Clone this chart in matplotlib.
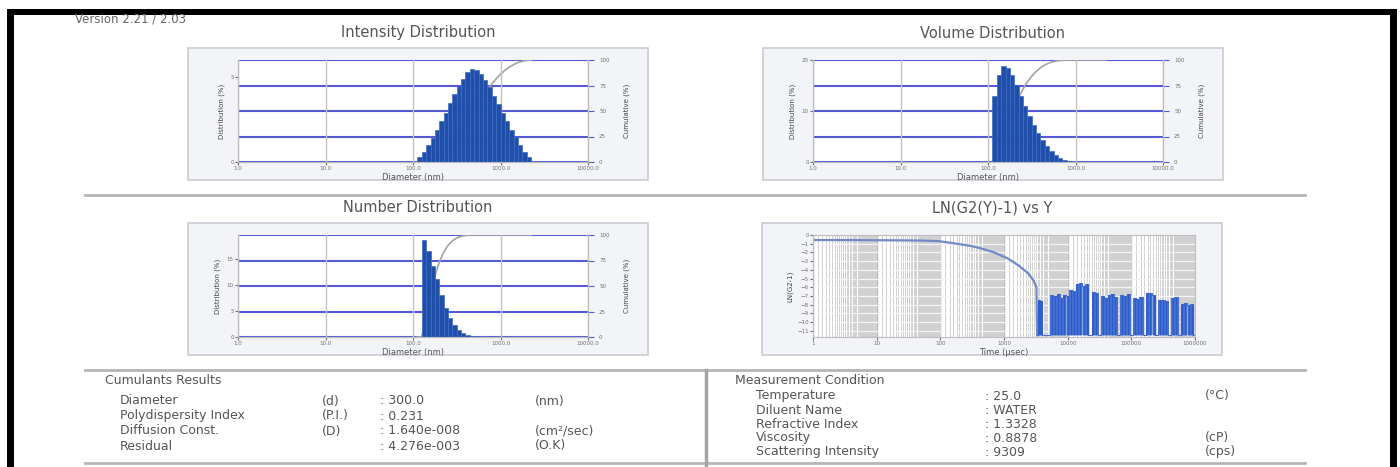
import numpy as np
import matplotlib.pyplot as plt
from matplotlib.patches import Rectangle
from matplotlib.lines import Line2D

W, H = 1400, 467

# size distribution bins (nm) and values
diameter_edges = [112.2, 125.9, 141.3, 158.5, 177.8, 199.5, 223.9, 251.2, 281.8, 316.2,
                  354.8, 398.1, 446.7, 501.2, 562.3, 631.0, 707.9, 794.3, 891.3, 1000.0,
                  1122.0, 1259.0, 1413.0, 1585.0, 1778.0, 1995.0, 2239.0]
intensity_pct = [0.3, 0.6, 1.0, 1.4, 1.9, 2.4, 2.9, 3.5, 4.0, 4.5, 4.9, 5.3, 5.5,
                 5.4, 5.2, 4.8, 4.4, 3.9, 3.4, 2.9, 2.4, 1.9, 1.5, 1.0, 0.6, 0.3]
volume_pct = [13.0, 17.0, 18.8, 18.5, 17.0, 15.0, 13.0, 11.0, 9.0, 7.3, 5.7, 4.3, 3.1,
              2.1, 1.3, 0.7, 0.3, 0.1, 0, 0, 0, 0, 0, 0, 0, 0]
number_pct = [0, 18.6, 16.5, 13.5, 11.0, 8.0, 5.5, 3.6, 2.3, 1.3, 0.7, 0.3, 0.1,
              0, 0, 0, 0, 0, 0, 0, 0, 0, 0, 0, 0, 0]
diam_ticks = [1, 10, 100, 1000, 10000]
diam_labels = ["1.0", "10.0", "100.0", "1000.0", "10000.0"]

# correlation function
tau_us = [1, 2, 5, 10, 20, 50, 92, 167, 300, 440, 700, 1150, 1700, 2400, 2900, 3230]
ln_g2 = [-0.58, -0.58, -0.59, -0.6, -0.61, -0.64, -0.7, -0.96, -1.25, -1.54, -2.0,
         -2.7, -3.5, -4.4, -5.2, -6.0]
noise_tau_us = [3311, 3548, 3802, 3981, 4467, 5012, 5623, 6310, 7079, 7943, 8913, 10000,
                11220, 12589, 14125, 15849, 17783, 19953, 22387, 25119, 28184, 31623,
                35481, 39811, 44668, 50119, 56234, 63096, 70795, 79433, 89125, 100000,
                112202, 125893, 141254, 158489, 177828, 199526, 223872, 251189, 281838,
                316228, 354813, 398107, 446684, 501187, 562341, 630957, 707946, 794328,
                891251, 1000000]
noise_ln_g2 = [-11.5, -7.5, -7.6, -11.5, -11.5, -11.5, -6.9, -7.0, -6.8, -7.2, -6.9, -7.0,
               -6.3, -6.4, -5.6, -5.5, -5.8, -5.6, -11.5, -6.5, -6.6, -11.5,
               -7.0, -7.2, -6.9, -6.8, -7.1, -11.5, -6.9, -7.0, -6.8, -11.5,
               -7.2, -7.3, -7.1, -11.5, -6.7, -6.6, -6.9, -11.5, -7.5,
               -7.4, -7.6, -11.5, -7.2, -7.1, -11.5, -7.9, -7.8, -8.0,
               -7.9, -11.5]
ln_floor = -11.5
tau_ticks = [1, 10, 100, 1000, 10000, 100000, 1000000]
tau_labels = ["1", "10", "100", "1000", "10000", "100000", "1000000"]

cumulant_rows = [("Diameter", "(d)", ": 300.0", "(nm)"),
                 ("Polydispersity Index", "(P.I.)", ": 0.231", ""),
                 ("Diffusion Const.", "(D)", ": 1.640e-008", "(cm\u00b2/sec)"),
                 ("Residual", "", ": 4.276e-003", "(O.K)")]
condition_rows = [("Temperature", ": 25.0", "(\u00b0C)"),
                  ("Diluent Name", ": WATER", ""),
                  ("Refractive Index", ": 1.3328", ""),
                  ("Viscosity", ": 0.8878", "(cP)"),
                  ("Scattering Intensity", ": 9309", "(cps)")]

BAR = "#1f4fa8"
GRID_BLUE = "#5559d6"
TXT = "#555555"
TICK = "#707070"


def box(x0, y0, x1, y1):
    return [x0 / W, 1 - y1 / H, (x1 - x0) / W, (y1 - y0) / H]


def frame(fig, x0, y0, x1, y1):
    l, b, w, h = box(x0, y0, x1, y1)
    fig.add_artist(Rectangle((l, b), w, h, transform=fig.transFigure, facecolor="#f2f4f8",
                             edgecolor="#c9ccd3", lw=1.2, zorder=-1))


def ftext(fig, x, y, s, size=8, color=TXT, ha="left"):
    fig.text(x / W, 1 - y / H, s, fontsize=size, color=color, ha=ha, va="center")


def dist_panel(fig, fx0, fy0, title, values, left_max, left_ticks):
    frame(fig, fx0, fy0, fx0 + 460, fy0 + 132)
    ftext(fig, fx0 + 230, fy0 - 15, title, size=10.5, ha="center")
    ax = fig.add_axes(box(fx0 + 50, fy0 + 12, fx0 + 400, fy0 + 114))
    ax2 = ax.twinx()
    ax2.set_zorder(0)
    ax.set_zorder(1)
    ax.patch.set_visible(False)
    ax2.patch.set_visible(True)
    ax2.patch.set_facecolor("white")

    edges = np.array(diameter_edges)
    vals = np.array(values, dtype=float)
    keep = vals > 0
    ax.bar(edges[:-1][keep], vals[keep], width=np.diff(edges)[keep], align="edge",
           color=BAR, edgecolor="#3e6cc6", linewidth=0.5, zorder=2)
    cum = np.concatenate([[0], np.cumsum(vals) / vals.sum() * 100])
    ax2.plot(edges, cum, color="#a3a3a3", lw=1.2)

    ax.set_xscale("log")
    ax.set_xlim(1, 10000)
    ax.set_ylim(0, left_max)
    ax2.set_ylim(0, 100)
    ax.set_xticks(diam_ticks)
    ax.set_xticklabels(diam_labels)
    ax.xaxis.set_minor_locator(plt.NullLocator())
    ax.set_yticks(left_ticks)
    ax2.set_yticks([0, 25, 50, 75, 100])
    ax.set_axisbelow(True)
    ax.xaxis.grid(True, color="#c4c4c4", lw=1.0)
    ax2.yaxis.grid(True, color=GRID_BLUE, lw=1.5)
    ax.tick_params(labelsize=4, colors=TICK, length=2, pad=1)
    ax2.tick_params(labelsize=4, colors=TICK, length=4, pad=4)
    ax2.tick_params(axis="y", color=GRID_BLUE)
    for a in (ax, ax2):
        for s in a.spines.values():
            s.set_color("#bdbdbd")
            s.set_linewidth(0.8)
        a.spines["top"].set_visible(False)
    ax.set_xlabel("Diameter (nm)", fontsize=6, color=TXT, labelpad=1)
    ax.set_ylabel("Distribution (%)", fontsize=5, color="#444444", labelpad=4)
    ax2.set_ylabel("Cumulative (%)", fontsize=5, color="#444444", labelpad=10)


fig = plt.figure(figsize=(14, 4.67), dpi=100)
fig.patch.set_facecolor("white")

# black screenshot border
for x0, y0, x1, y1 in [(7, 9, 1397, 15), (7, 9, 14, 467), (1390, 9, 1397, 467)]:
    l, b, w, h = box(x0, y0, x1, y1)
    fig.add_artist(Rectangle((l, b), w, h, transform=fig.transFigure, color="black", lw=0))

# separators
for y in (195, 370, 463):
    fig.add_artist(Line2D([85 / W, 1305 / W], [1 - y / H] * 2, transform=fig.transFigure,
                          color="#b5b5b5", lw=2))
fig.add_artist(Line2D([706 / W] * 2, [1 - 370 / H, 0], transform=fig.transFigure,
                      color="#a5a5a5", lw=2.5))

ftext(fig, 75, 19, "Version 2.21 / 2.03", size=8.5, color="#666666")

dist_panel(fig, 188, 48, "Intensity Distribution", intensity_pct, 6, [0, 5])
dist_panel(fig, 763, 48, "Volume Distribution", volume_pct, 20, [0, 10, 20])
dist_panel(fig, 188, 223, "Number Distribution", number_pct, 19.5, [0, 5, 10, 15])

# correlation panel
frame(fig, 762, 223, 1222, 355)
ftext(fig, 992, 208, "LN(G2(Y)-1) vs Y", size=10.5, ha="center")
ax3 = fig.add_axes(box(813, 235, 1195, 337))
ax3.set_xscale("log")
ax3.set_xlim(1, 1e6)
ax3.set_ylim(-11.7, 0)
ax3.set_xticks(tau_ticks)
ax3.set_xticklabels(tau_labels)
ax3.set_yticks(range(0, -12, -1))
ax3.xaxis.set_minor_locator(plt.LogLocator(base=10, subs=np.arange(1.2, 9.9, 0.2), numticks=20))
ax3.xaxis.set_minor_formatter(plt.NullFormatter())
ax3.set_axisbelow(True)
ax3.xaxis.grid(True, which="minor", color="#d0d0d0", lw=0.7)
ax3.xaxis.grid(True, which="major", color="#bcbcbc", lw=1.0)
ax3.yaxis.grid(True, color="#f4f4f4", lw=0.9)
ax3.tick_params(labelsize=4, colors=TICK, length=2, pad=1)
ax3.tick_params(which="minor", length=0)
for s in ax3.spines.values():
    s.set_color("#bdbdbd")
    s.set_linewidth(0.8)
ax3.plot(tau_us + noise_tau_us[:1], ln_g2 + noise_ln_g2[:1], color="#7389c6", lw=1.6)
nt = np.array(noise_tau_us)
nv = np.array(noise_ln_g2)
ax3.fill_between(nt, nv, ln_floor, step="mid", color="#86a2e2", lw=0)
ax3.step(nt, nv, where="mid", color="#4a70d0", lw=0.8)
up = nv > ln_floor
ax3.vlines(nt[up], ln_floor, nv[up], color="#2c5ccc", lw=1.8)
ax3.set_xlabel("Time (\u03bcsec)", fontsize=6, color=TXT, labelpad=1)
ax3.set_ylabel("LN(G2-1)", fontsize=5, color="#444444", labelpad=3)

# result tables
ftext(fig, 105, 381, "Cumulants Results", size=9)
for i, (name, sym, val, unit) in enumerate(cumulant_rows):
    y = 401 + i * 15
    ftext(fig, 120, y, name, size=9)
    ftext(fig, 322, y, sym, size=9)
    ftext(fig, 380, y, val, size=9)
    ftext(fig, 535, y, unit, size=9)

ftext(fig, 735, 381, "Measurement Condition", size=9)
for i, (name, val, unit) in enumerate(condition_rows):
    y = 396 + i * 14
    ftext(fig, 756, y, name, size=9)
    ftext(fig, 985, y, val, size=9)
    ftext(fig, 1205, y, unit, size=9)

fig.savefig("out.png", dpi=100)
